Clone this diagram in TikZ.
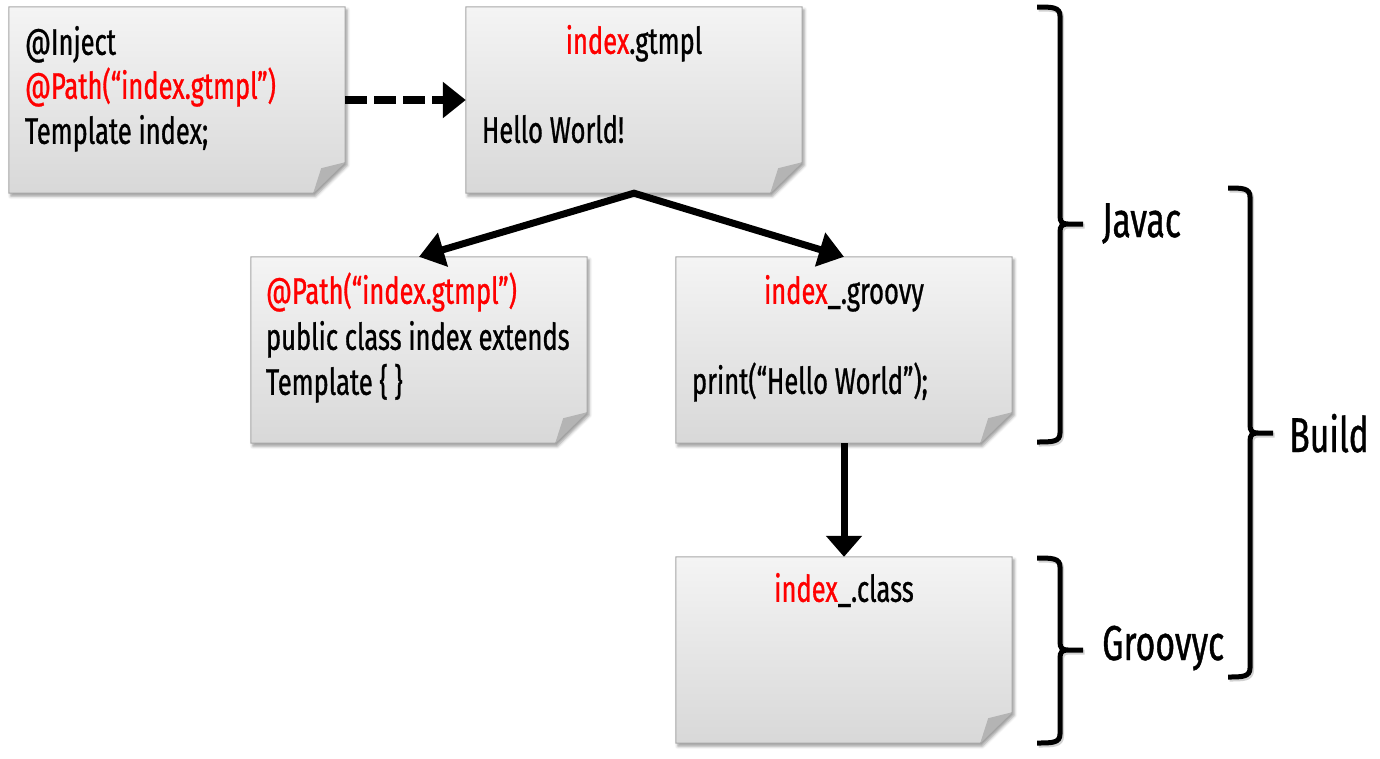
\documentclass[tikz,border=0pt]{standalone}
\usepackage{fontspec}
\setmainfont{Fira Sans}[FakeStretch=0.69,FakeBold=0.8]
\usetikzlibrary{arrows.meta,calc,shadows.blur}
\definecolor{notetop}{RGB}{244,244,244}
\definecolor{notebot}{RGB}{216,216,216}
\definecolor{noteline}{RGB}{168,168,168}
\definecolor{foldc}{RGB}{180,180,180}
\definecolor{hl}{RGB}{255,0,0}
\tikzset{
  notebase/.style={minimum width=336pt, minimum height=186pt, inner sep=0pt, draw=none},
  notefill/.style={top color=notetop, bottom color=notebot, draw=noteline, line width=1pt,
    blur shadow={shadow xshift=2pt, shadow yshift=-3pt, shadow blur radius=3pt, shadow opacity=40}},
  txt/.style={inner sep=0pt, font=\fontsize{37}{44}\selectfont},
  lab/.style={inner sep=0pt, font=\fontsize{49}{58}\selectfont},
  arrsolid/.style={draw=black, line width=7pt},
  dasharr/.style={draw=black, line width=8pt, dash pattern=on 22pt off 7pt, -{Triangle[width=35pt,length=23pt]}},
  bracket/.style={draw=black, line width=5pt},
  bracketshadow/.style={draw=black!35, line width=5pt, opacity=0.5, xshift=1.5pt, yshift=-2pt}
}
\newcommand\Note[3]{%
  \node[notebase] (#1) at (#2,#3) {};
  \path[notefill] (#1.north west) -- (#1.north east) -- ($(#1.south east)+(0pt,31pt)$) -- ($(#1.south east)+(-32pt,0pt)$) -- (#1.south west) -- cycle;
  \fill[foldc] ($(#1.south east)+(0pt,31pt)$) -- ($(#1.south east)+(-24pt,25pt)$) -- ($(#1.south east)+(-32pt,0pt)$) -- cycle;
}
\newcommand\BracePath[6]{%
  (#1,#3) .. controls (#2-8,#3) and (#2,#3) .. (#2,#3+9) -- (#2,#4-8) .. controls (#2,#4-2) and (#2+2,#4) .. (#2+8,#4) -- (#6,#4)
  (#2+8,#4) .. controls (#2+2,#4) and (#2,#4+2) .. (#2,#4+8) -- (#2,#5-9) .. controls (#2,#5) and (#2-8,#5) .. (#1,#5)}
\newcommand\Brace[6]{%
  \draw[bracketshadow] \BracePath{#1}{#2}{#3}{#4}{#5}{#6};
  \draw[bracket] \BracePath{#1}{#2}{#3}{#4}{#5}{#6};
}
\begin{document}
\begin{tikzpicture}[x=1pt,y=-1pt]
\path[use as bounding box] (0,0) rectangle (1380,758);

\Note{A}{177}{100}
\Note{B}{634}{100}
\Note{C}{419}{350}
\Note{D}{844}{350}
\Note{E}{844}{650}

% texts
\node[txt,anchor=base west] (A1) at ($(A.north west)+(16pt,-48pt)$) {@Inject};
\node[txt,anchor=base west,text=hl] (A2) at ($(A.north west)+(16pt,-92pt)$) {@Path(“index.gtmpl”)};
\node[txt,anchor=base west] (A3) at ($(A.north west)+(16pt,-137pt)$) {Template index;};

\node[txt,anchor=base] (B1) at ($(B.north)+(0pt,-47pt)$) {\textcolor{hl}{index}.gtmpl};
\node[txt,anchor=base west] (B2) at ($(B.north west)+(16pt,-136pt)$) {Hello World!};

\node[txt,anchor=base west,text=hl] (C1) at ($(C.north west)+(15pt,-47pt)$) {@Path(“index.gtmpl”)};
\node[txt,anchor=base west] (C2) at ($(C.north west)+(15pt,-93pt)$) {public class index extends};
\node[txt,anchor=base west] (C3) at ($(C.north west)+(15pt,-138pt)$) {Template \{ \}};

\node[txt,anchor=base] (D1) at ($(D.north)+(0pt,-47pt)$) {\textcolor{hl}{index}\_.groovy};
\node[txt,anchor=base west] (D2) at ($(D.north west)+(16pt,-137pt)$) {print(“Hello World”);};

\node[txt,anchor=base] (E1) at ($(E.north)+(0pt,-45pt)$) {\textcolor{hl}{index}\_.class};

% connectors
\draw[dasharr] (A.east) -- (B.west);
\draw[arrsolid, line join=miter, {Triangle[width=34pt,length=25pt]}-{Triangle[width=34pt,length=25pt]}] (C.north) -- (B.south) -- (D.north);
\draw[arrsolid, -{Triangle[width=35pt,length=21pt]}] (D.south) -- (E.north);

% brackets
\Brace{1037}{1060}{7}{224}{442}{1083}
\Brace{1037}{1060}{558}{650}{743}{1083}
\Brace{1228}{1250}{188}{433}{677}{1273}

\node[lab,anchor=base west] (javac) at (1102,237) {Javac};
\node[lab,anchor=base west] (groovyc) at (1102,660) {Groovyc};
\node[lab,anchor=base west] (build) at (1289,452) {Build};
\end{tikzpicture}
\end{document}
